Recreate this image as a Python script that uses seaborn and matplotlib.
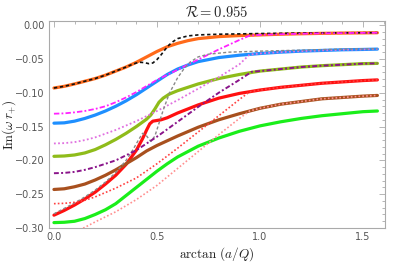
import numpy as np
import pandas as pd
import matplotlib
matplotlib.use("Agg")
import matplotlib.pyplot as plt
import seaborn as sns
from matplotlib.ticker import MultipleLocator, FuncFormatter

# ---- data ----
orange_x = [0, 0.05, 0.1, 0.15, 0.2, 0.25, 0.3, 0.35, 0.4, 0.45, 0.5, 0.55, 0.6, 0.65, 0.7, 0.8, 0.9, 1.0, 1.1, 1.2, 1.3, 1.4, 1.5, 1.57]
orange_y = [-0.093, -0.0905, -0.087, -0.083, -0.079, -0.074, -0.068, -0.062, -0.055, -0.047, -0.039, -0.032, -0.027, -0.023, -0.020, -0.017, -0.0155, -0.0145, -0.0135, -0.0128, -0.0122, -0.0118, -0.0115, -0.0113]

black_x = [0, 0.05, 0.1, 0.15, 0.2, 0.25, 0.3, 0.35, 0.38, 0.4, 0.42, 0.44, 0.46, 0.48, 0.5, 0.52, 0.54, 0.56, 0.58, 0.6, 0.65, 0.7, 0.8, 0.9, 1.0, 1.2, 1.4, 1.57]
black_y = [-0.093, -0.0905, -0.087, -0.083, -0.079, -0.074, -0.068, -0.062, -0.058, -0.056, -0.055, -0.0555, -0.057, -0.056, -0.051, -0.044, -0.036, -0.029, -0.024, -0.020, -0.016, -0.0145, -0.0135, -0.013, -0.0125, -0.0118, -0.0114, -0.0112]

magenta_x = [0, 0.05, 0.1, 0.15, 0.2, 0.25, 0.3, 0.35, 0.4, 0.45, 0.5, 0.6, 0.7, 0.8, 0.9, 0.95, 1.0, 1.1, 1.2, 1.3, 1.4, 1.5, 1.57]
magenta_y = [-0.131, -0.1305, -0.129, -0.127, -0.124, -0.120, -0.114, -0.107, -0.099, -0.090, -0.081, -0.066, -0.051, -0.036, -0.022, -0.0155, -0.0145, -0.0135, -0.0128, -0.0122, -0.0118, -0.0115, -0.0113]

blue_x = [0, 0.05, 0.1, 0.15, 0.2, 0.25, 0.3, 0.35, 0.4, 0.45, 0.5, 0.55, 0.6, 0.65, 0.7, 0.75, 0.8, 0.9, 1.0, 1.1, 1.2, 1.3, 1.4, 1.5, 1.57]
blue_y = [-0.145, -0.1445, -0.142, -0.138, -0.133, -0.127, -0.120, -0.112, -0.103, -0.093, -0.083, -0.073, -0.065, -0.059, -0.054, -0.051, -0.048, -0.0445, -0.042, -0.040, -0.0385, -0.0375, -0.0365, -0.036, -0.0355]

violet_x = [0, 0.05, 0.1, 0.15, 0.2, 0.3, 0.4, 0.5, 0.6, 0.7, 0.8, 0.9, 0.95, 1.0, 1.1, 1.2, 1.3, 1.4, 1.5, 1.57]
violet_y = [-0.175, -0.1745, -0.173, -0.170, -0.166, -0.155, -0.142, -0.127, -0.111, -0.094, -0.077, -0.058, -0.0435, -0.042, -0.040, -0.0385, -0.0375, -0.0365, -0.036, -0.0355]

gray_x = [0, 0.05, 0.1, 0.15, 0.2, 0.25, 0.3, 0.35, 0.38, 0.41, 0.43, 0.45, 0.47, 0.49, 0.51, 0.53, 0.56, 0.6, 0.63, 0.66, 0.7, 0.75, 0.85, 1.0, 1.2, 1.4, 1.57]
gray_y = [-0.279, -0.271, -0.263, -0.254, -0.244, -0.232, -0.218, -0.200, -0.186, -0.170, -0.160, -0.164, -0.172, -0.164, -0.145, -0.126, -0.101, -0.078, -0.065, -0.055, -0.047, -0.043, -0.040, -0.0385, -0.037, -0.0355, -0.035]

ygreen_x = [0, 0.05, 0.1, 0.15, 0.2, 0.25, 0.3, 0.35, 0.4, 0.45, 0.47, 0.49, 0.51, 0.53, 0.56, 0.6, 0.65, 0.7, 0.8, 0.9, 1.0, 1.1, 1.2, 1.3, 1.4, 1.5, 1.57]
ygreen_y = [-0.194, -0.1935, -0.192, -0.189, -0.184, -0.177, -0.169, -0.160, -0.150, -0.139, -0.133, -0.124, -0.114, -0.108, -0.102, -0.097, -0.092, -0.087, -0.079, -0.073, -0.068, -0.065, -0.062, -0.060, -0.0585, -0.057, -0.0566]

purple_x = [0, 0.05, 0.1, 0.15, 0.2, 0.3, 0.4, 0.5, 0.6, 0.7, 0.8, 0.9, 0.96, 1.0, 1.1, 1.2, 1.3, 1.4, 1.5, 1.57]
purple_y = [-0.219, -0.2185, -0.217, -0.214, -0.210, -0.200, -0.185, -0.165, -0.143, -0.121, -0.100, -0.081, -0.069, -0.068, -0.065, -0.062, -0.060, -0.0585, -0.057, -0.0566]

red_x = [0, 0.05, 0.1, 0.15, 0.2, 0.25, 0.3, 0.35, 0.4, 0.43, 0.45, 0.465, 0.48, 0.5, 0.52, 0.55, 0.6, 0.65, 0.7, 0.8, 0.9, 1.0, 1.1, 1.2, 1.3, 1.4, 1.5, 1.57]
red_y = [-0.281, -0.274, -0.266, -0.257, -0.247, -0.235, -0.222, -0.206, -0.185, -0.168, -0.155, -0.146, -0.142, -0.141, -0.140, -0.137, -0.130, -0.124, -0.118, -0.108, -0.101, -0.096, -0.092, -0.089, -0.086, -0.084, -0.082, -0.081]

reddot_x = [0, 0.05, 0.1, 0.15, 0.2, 0.3, 0.4, 0.5, 0.6, 0.7, 0.8, 0.9, 0.95, 1.0, 1.1, 1.2, 1.3, 1.4, 1.5, 1.57]
reddot_y = [-0.264, -0.2635, -0.262, -0.259, -0.254, -0.241, -0.226, -0.205, -0.182, -0.158, -0.134, -0.110, -0.0985, -0.096, -0.092, -0.089, -0.086, -0.084, -0.082, -0.081]

brown_x = [0, 0.05, 0.1, 0.15, 0.2, 0.25, 0.3, 0.35, 0.4, 0.45, 0.5, 0.55, 0.6, 0.7, 0.8, 0.9, 1.0, 1.1, 1.2, 1.3, 1.4, 1.5, 1.57]
brown_y = [-0.243, -0.242, -0.239, -0.235, -0.229, -0.222, -0.214, -0.205, -0.196, -0.186, -0.178, -0.171, -0.164, -0.151, -0.140, -0.131, -0.123, -0.117, -0.113, -0.109, -0.107, -0.105, -0.104]

pink_x = [0, 0.05, 0.1, 0.15, 0.2, 0.3, 0.4, 0.5, 0.6, 0.7, 0.8, 0.9, 0.95, 1.0, 1.1, 1.2, 1.3, 1.4, 1.5, 1.57]
pink_y = [-0.313, -0.311, -0.306, -0.299, -0.291, -0.276, -0.258, -0.237, -0.212, -0.187, -0.162, -0.138, -0.127, -0.123, -0.117, -0.113, -0.109, -0.107, -0.105, -0.104]

green_x = [0, 0.05, 0.1, 0.15, 0.2, 0.25, 0.3, 0.35, 0.4, 0.45, 0.5, 0.55, 0.6, 0.7, 0.8, 0.9, 1.0, 1.1, 1.2, 1.3, 1.4, 1.5, 1.57]
green_y = [-0.292, -0.2915, -0.290, -0.286, -0.280, -0.273, -0.264, -0.252, -0.240, -0.228, -0.216, -0.205, -0.195, -0.179, -0.167, -0.157, -0.149, -0.143, -0.138, -0.134, -0.131, -0.128, -0.127]

title_text = r"$\mathcal{R} = 0.955$"
xlabel_text = r"$\arctan\,(a/Q)$"
ylabel_text = r"$\mathrm{Im}(\omega\, r_{+})$"
x_ticks = [0.0, 0.5, 1.0, 1.5]
y_ticks = [0.0, -0.05, -0.10, -0.15, -0.20, -0.25, -0.30]

# ---- style ----
sns.set_style("white")
plt.rcParams["font.family"] = ["DejaVu Sans"]
plt.rcParams["mathtext.fontset"] = "cm"

fig = plt.figure(figsize=(4.07, 2.63), dpi=100)
ax = fig.add_axes([0.1204, 0.133, 0.8256, 0.787])

solid = [
    (orange_x, orange_y, "#ff6a1a"),
    (blue_x, blue_y, "#1e8fff"),
    (ygreen_x, ygreen_y, "#8fbc1a"),
    (red_x, red_y, "#ff1010"),
    (brown_x, brown_y, "#a8501e"),
    (green_x, green_y, "#1aee1a"),
]
for xs, ys, c in solid:
    df = pd.DataFrame({"x": xs, "y": ys})
    sns.lineplot(data=df, x="x", y="y", ax=ax, color=c, lw=2.3, sort=False,
                 estimator=None, solid_capstyle="round", solid_joinstyle="round", zorder=2)

dashed = [
    (black_x, black_y, "#111111", (0, (2.0, 1.6)), 1.2),
    (magenta_x, magenta_y, "#ff22ff", (0, (3.0, 1.2, 1.0, 1.2)), 1.3),
    (violet_x, violet_y, "#e070e0", (0, (1.0, 1.3)), 1.3),
    (gray_x, gray_y, "#888888", (0, (2.2, 1.6)), 1.0),
    (purple_x, purple_y, "#8a148a", (0, (2.5, 1.2, 1.0, 1.2)), 1.4),
    (reddot_x, reddot_y, "#ff4040", (0, (1.0, 1.3)), 1.2),
    (pink_x, pink_y, "#ff9090", (0, (1.0, 1.3)), 1.2),
]
for xs, ys, c, ls, lw in dashed:
    df = pd.DataFrame({"x": xs, "y": ys})
    sns.lineplot(data=df, x="x", y="y", ax=ax, color=c, lw=lw, sort=False,
                 estimator=None, linestyle=ls, zorder=3)

ax.set_xlim(-0.024, 1.607)
ax.set_ylim(-0.30, 0.006)
ax.set_xticks(x_ticks)
ax.set_yticks(y_ticks)
ax.xaxis.set_minor_locator(MultipleLocator(0.1))
ax.yaxis.set_minor_locator(MultipleLocator(0.01))
ax.xaxis.set_major_formatter(FuncFormatter(lambda v, p: f"{v:.1f}"))
ax.yaxis.set_major_formatter(FuncFormatter(lambda v, p: ("\u2212" if v < -1e-9 else "") + f"{abs(v):.2f}"))

frame_c = "#aaaaaa"
for s in ax.spines.values():
    s.set_color(frame_c)
    s.set_linewidth(0.8)
ax.tick_params(which="both", direction="in", top=True, right=True, color=frame_c,
               labelcolor="#555555", labelsize=7, width=0.6)
ax.tick_params(which="major", length=4, pad=3)
ax.tick_params(which="minor", length=2)

ax.set_title(title_text, fontsize=10.5, pad=3)
ax.set_xlabel(xlabel_text, fontsize=9.5, labelpad=2)
ax.set_ylabel(ylabel_text, fontsize=9.5)
ax.yaxis.set_label_coords(-0.092, 0.5)

fig.savefig("out.png", dpi=100)
